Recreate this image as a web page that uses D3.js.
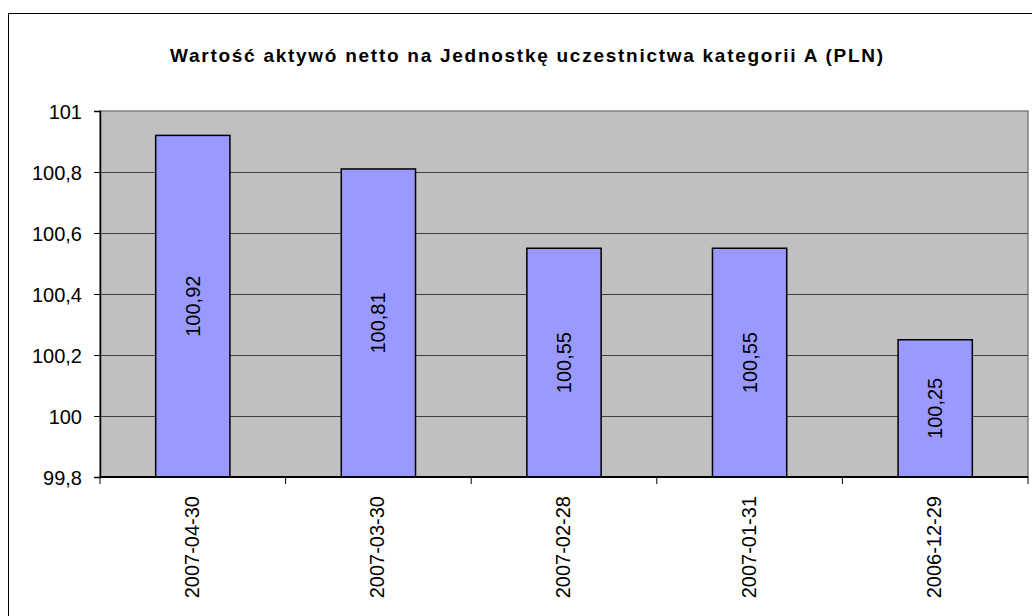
<!DOCTYPE html>
<html><head><meta charset="utf-8">
<script src="https://cdn.jsdelivr.net/npm/d3@7"></script>
<style>body{margin:0;background:#fff}svg{display:block}</style>
</head><body>
<script>
const title = "Wartość aktywó netto na Jednostkę uczestnictwa kategorii A (PLN)";
const categories = ["2007-04-30","2007-03-30","2007-02-28","2007-01-31","2006-12-29"];
const values = [100.92, 100.81, 100.55, 100.55, 100.25];
const yTicks = [99.8, 100, 100.2, 100.4, 100.6, 100.8, 101];
const yTickLabels = ["99,8","100","100,2","100,4","100,6","100,8","101"];
const valueLabels = ["100,92","100,81","100,55","100,55","100,25"];

const W = 1032, H = 616;
const m = {left:100, top:111, right:1028, bottom:477};
const font = "Arial, 'Liberation Sans', sans-serif";

const svg = d3.select("body").append("svg").attr("width", W).attr("height", H);
svg.append("rect").attr("x",8.5).attr("y",13.5).attr("width",1100).attr("height",1000)
  .attr("fill","#fff").attr("stroke","#000").attr("stroke-width",1);

const x = d3.scaleBand().domain(categories).range([m.left, m.right]).paddingInner(0.6).paddingOuter(0.3);
const y = d3.scaleLinear().domain([99.8, 101]).range([m.bottom, m.top]);

svg.append("rect").attr("x",m.left).attr("y",m.top).attr("width",m.right-m.left).attr("height",m.bottom-m.top)
  .attr("fill","#c0c0c0").attr("stroke","#808080").attr("stroke-width",1.5);

svg.append("g").selectAll("line").data(yTicks.slice(1,-1)).join("line")
  .attr("x1",m.left).attr("x2",m.right).attr("y1",d=>Math.round(y(d))+0.5).attr("y2",d=>Math.round(y(d))+0.5)
  .attr("stroke","#404040").attr("stroke-width",1);

svg.append("g").selectAll("rect").data(values).join("rect")
  .attr("x",(d,i)=>x(categories[i])).attr("width",x.bandwidth())
  .attr("y",d=>y(d)).attr("height",d=>y(99.8)-y(d))
  .attr("fill","#9999ff").attr("stroke","#000").attr("stroke-width",1.5);

svg.append("g").selectAll("text").data(values).join("text")
  .attr("transform",(d,i)=>`translate(${x(categories[i])+x.bandwidth()/2+7},${(y(d)+y(99.8))/2}) rotate(-90)`)
  .attr("text-anchor","middle").attr("font-family",font).attr("font-size",20).attr("fill","#000")
  .text((d,i)=>valueLabels[i]);

// y axis
const yAxis = d3.axisLeft(y).tickValues(yTicks).tickSize(6).tickPadding(12)
  .tickFormat((d,i)=>yTickLabels[i]);
const gy = svg.append("g").attr("transform",`translate(${m.left},0)`).call(yAxis);
gy.select(".domain").attr("stroke","#000").attr("stroke-width",1.5);
gy.selectAll(".tick line").attr("stroke","#000");
gy.selectAll("text").attr("font-family",font).attr("font-size",20).attr("fill","#000").attr("dy","0.35em");

// x axis baseline
svg.append("line").attr("x1",m.left).attr("x2",m.right).attr("y1",m.bottom).attr("y2",m.bottom)
  .attr("stroke","#000").attr("stroke-width",2);
// category boundary ticks
const bounds = d3.range(categories.length+1).map(i=>m.left + i*(m.right-m.left)/categories.length);
svg.append("g").selectAll("line").data(bounds).join("line")
  .attr("x1",d=>d).attr("x2",d=>d).attr("y1",m.bottom).attr("y2",m.bottom+7)
  .attr("stroke","#000").attr("stroke-width",1);
svg.append("g").selectAll("text").data(categories).join("text")
  .attr("transform",d=>`translate(${x(d)+x.bandwidth()/2+6},${m.bottom+19}) rotate(-90)`)
  .attr("text-anchor","end").attr("font-family",font).attr("font-size",20).attr("fill","#000")
  .text(d=>d);

svg.append("text").attr("x",170).attr("y",62)
  .attr("font-family",font).attr("font-weight","bold").attr("font-size",19).attr("fill","#000")
  .attr("textLength",713).attr("lengthAdjust","spacing")
  .text(title);
</script>
</body></html>
